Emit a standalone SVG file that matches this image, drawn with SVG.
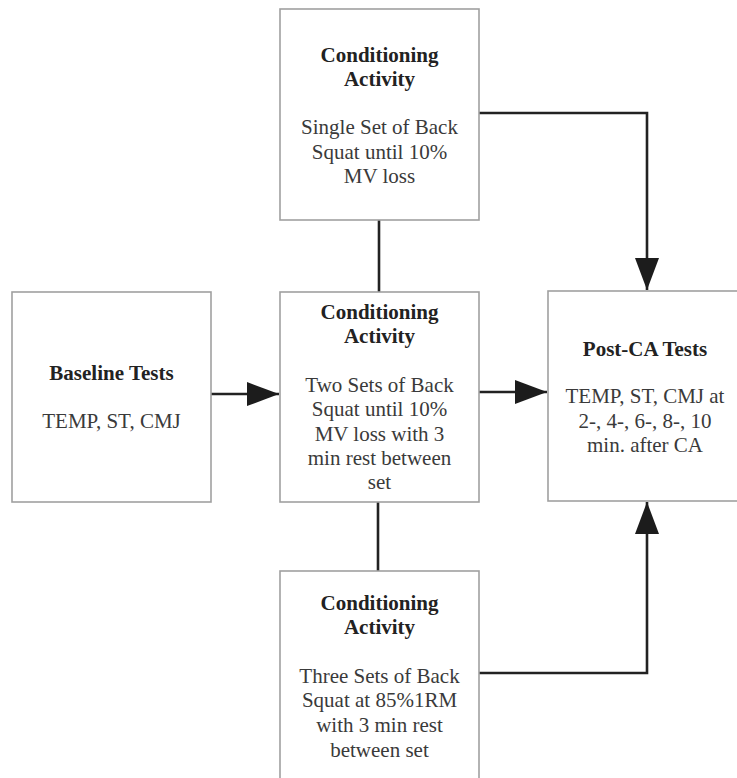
<svg xmlns="http://www.w3.org/2000/svg" width="737" height="778" viewBox="0 0 737 778">
<style>
.box{fill:#fff;stroke:#a0a0a0;stroke-width:1.6}
.t{font-size:21px;text-anchor:middle}
.h{font-weight:bold;fill:#222}
.b{fill:#3a3a3a}
.c{fill:none;stroke:#222;stroke-width:2.6}
</style>
<defs>
<marker id="arr" markerUnits="userSpaceOnUse" markerWidth="32" markerHeight="24" refX="32" refY="12" orient="auto">
<path d="M0,0 L32,12 L0,24 z" fill="#1c1c1c"/>
</marker>
</defs>
<rect width="737" height="778" fill="#fff"/>
<g id="connectors">
<path class="c" d="M479,113 H647 V290" marker-end="url(#arr)"/>
<path class="c" d="M379,220 V292"/>
<path class="c" d="M211,394 H279" marker-end="url(#arr)"/>
<path class="c" d="M479,392 H547" marker-end="url(#arr)"/>
<path class="c" d="M378,502 V571"/>
<path class="c" d="M479,673 H647 V502" marker-end="url(#arr)"/>
</g>
<g font-family="Liberation Serif, Times New Roman, DejaVu Serif, serif">
<g id="top">
<rect class="box" x="280" y="9" width="199" height="211"/>
<text class="t h" x="379.5" y="62">Conditioning</text>
<text class="t h" x="379.5" y="86">Activity</text>
<text class="t b" x="379.5" y="134">Single Set of Back</text>
<text class="t b" x="379.5" y="159">Squat until 10%</text>
<text class="t b" x="379.5" y="183">MV loss</text>
</g>
<g id="baseline">
<rect class="box" x="12" y="292" width="199" height="210"/>
<text class="t h" x="111.5" y="380">Baseline Tests</text>
<text class="t b" x="111.5" y="428">TEMP, ST, CMJ</text>
</g>
<g id="middle">
<rect class="box" x="280" y="292" width="199" height="210"/>
<text class="t h" x="379.5" y="319">Conditioning</text>
<text class="t h" x="379.5" y="343">Activity</text>
<text class="t b" x="379.5" y="392">Two Sets of Back</text>
<text class="t b" x="379.5" y="416">Squat until 10%</text>
<text class="t b" x="379.5" y="441">MV loss with 3</text>
<text class="t b" x="379.5" y="465">min rest between</text>
<text class="t b" x="379.5" y="489">set</text>
</g>
<g id="post">
<rect class="box" x="548" y="291" width="194" height="210"/>
<text class="t h" x="645" y="356">Post-CA Tests</text>
<text class="t b" x="645" y="403">TEMP, ST, CMJ at</text>
<text class="t b" x="645" y="428">2-, 4-, 6-, 8-, 10</text>
<text class="t b" x="645" y="452">min. after CA</text>
</g>
<g id="bottom">
<rect class="box" x="280" y="571" width="199" height="220"/>
<text class="t h" x="379.5" y="610">Conditioning</text>
<text class="t h" x="379.5" y="634">Activity</text>
<text class="t b" x="379.5" y="683">Three Sets of Back</text>
<text class="t b" x="379.5" y="707">Squat at 85%1RM</text>
<text class="t b" x="379.5" y="732">with 3 min rest</text>
<text class="t b" x="379.5" y="757">between set</text>
</g>
</g>
</svg>
